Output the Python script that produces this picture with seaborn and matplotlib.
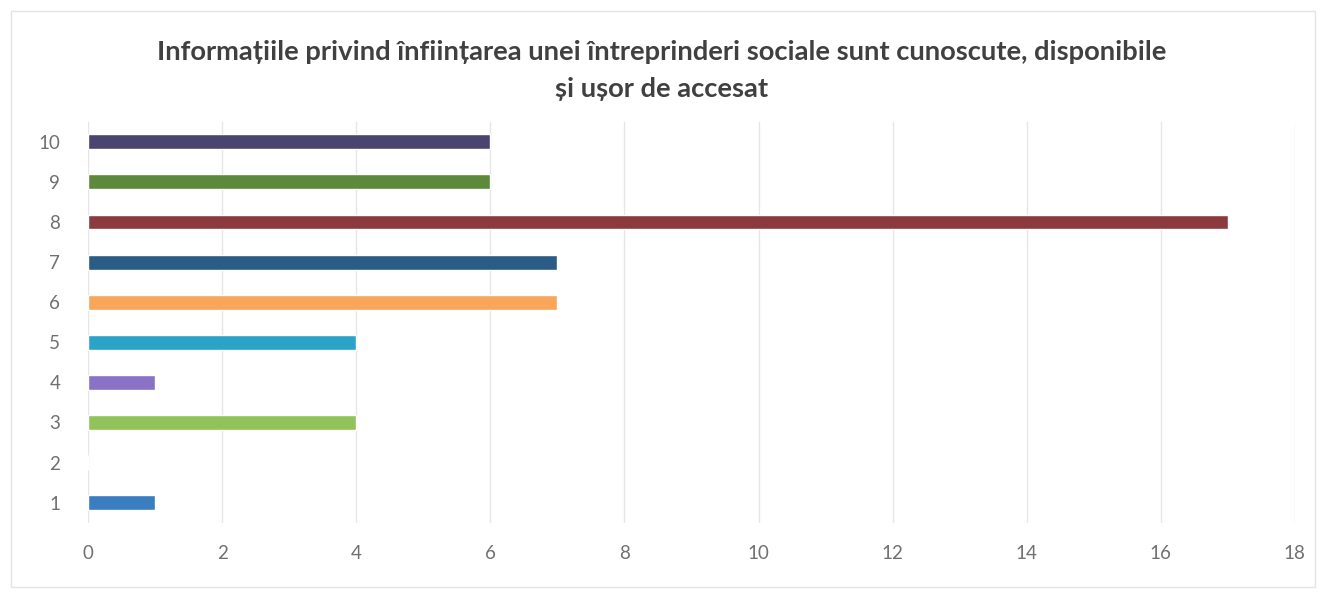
import matplotlib
matplotlib.use("Agg")
import matplotlib.pyplot as plt
import seaborn as sns
import pandas as pd
from matplotlib.patches import Rectangle

# ── data ──────────────────────────────────────────────
categories = ["1", "2", "3", "4", "5", "6", "7", "8", "9", "10"]
values = [1, 0, 4, 1, 4, 7, 7, 17, 6, 6]
bar_colors = ["#3A7DC0", "#FFFFFF", "#92C25A", "#8A72C6", "#2BA3C8",
              "#F9A55A", "#2B5C85", "#8B3A3E", "#5D8A3A", "#4A4470"]
x_ticks = [0, 2, 4, 6, 8, 10, 12, 14, 16, 18]
title = ("Informațiile privind înființarea unei întreprinderi sociale sunt cunoscute, disponibile\n"
         "și ușor de accesat")

df = pd.DataFrame({"cat": categories, "val": values})

sns.set_style("white")
plt.rcParams["font.family"] = ["Lato", "DejaVu Sans"]

fig = plt.figure(figsize=(13.24, 5.94), dpi=100)
ax = fig.add_axes([0.0665, 0.12, 0.9115, 0.675])

sns.barplot(
    data=df, x="val", y="cat", hue="cat",
    order=categories[::-1], hue_order=categories,
    palette=dict(zip(categories, bar_colors)),
    orient="h", width=0.37, legend=False, saturation=1, ax=ax,
)

ax.set_xlim(0, 18)
ax.set_xticks(x_ticks)
ax.xaxis.grid(True, color="#E6E6E6", linewidth=1)
ax.set_axisbelow(True)
for s in ax.spines.values():
    s.set_visible(False)
ax.set_xlabel("")
ax.set_ylabel("")
ax.tick_params(axis="both", length=0, labelsize=13.5, labelcolor="#707070")
ax.tick_params(axis="x", pad=16)
ax.tick_params(axis="y", pad=20)

fig.text(0.5, 0.882, title, ha="center", va="center", fontsize=19.7,
         fontweight="bold", color="#404040", linespacing=1.65)

# faint chart border
fig.patches.append(Rectangle((0.008, 0.012), 0.985, 0.97, transform=fig.transFigure,
                             fill=False, edgecolor="#E4E4E4", linewidth=1))

fig.savefig("out.png", dpi=100, facecolor="white")
